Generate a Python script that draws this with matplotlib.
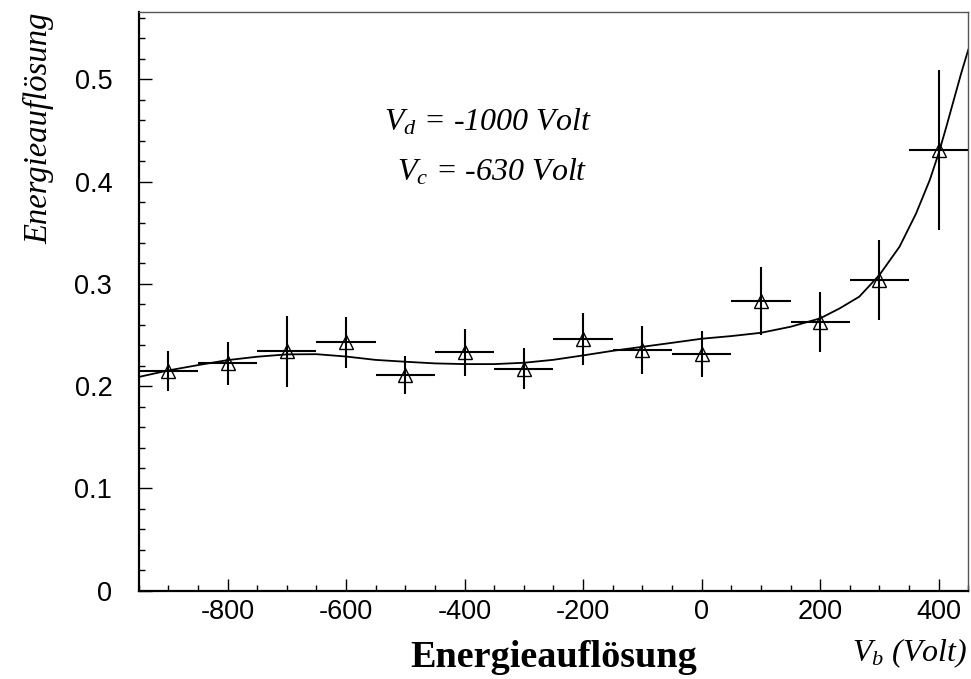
import numpy as np
import matplotlib
matplotlib.use('Agg')
import matplotlib.pyplot as plt
from matplotlib.ticker import MultipleLocator

# measured points: bias voltage V_b, energy resolution, error
vb       = [-900, -800, -700, -600, -500, -400, -300, -200, -100, 0, 100, 200, 300, 400]
res      = [0.2151, 0.2223, 0.2343, 0.2431, 0.2109, 0.2333, 0.2170,
            0.2464, 0.2353, 0.2314, 0.2835, 0.2627, 0.3038, 0.4309]
res_err  = [0.0195, 0.0210, 0.0348, 0.0250, 0.0186, 0.0230, 0.0200,
            0.0253, 0.0233, 0.0223, 0.0335, 0.0290, 0.0390, 0.0785]
bin_half = [50] * len(vb)

# fit curve
fit_x = [-950, -900, -850, -800, -750, -700, -650, -600, -550, -500, -450, -400,
         -350, -300, -250, -200, -150, -100, -50, 0, 50, 100, 150, 200, 233,
         266, 300, 334, 362, 385, 400, 413, 427, 438, 450]
fit_y = [0.2090, 0.2154, 0.2206, 0.2255, 0.2288, 0.2311, 0.2313, 0.2290, 0.2257,
         0.2239, 0.2223, 0.2216, 0.2216, 0.2229, 0.2258, 0.2301, 0.2346, 0.2385,
         0.2424, 0.2464, 0.2490, 0.2522, 0.2581, 0.2663, 0.2761, 0.2875, 0.3087,
         0.3364, 0.3690, 0.4016, 0.4277, 0.4537, 0.4830, 0.5059, 0.5290]

plt.rcParams['mathtext.fontset'] = 'custom'
plt.rcParams['mathtext.rm'] = 'Liberation Serif'
plt.rcParams['mathtext.it'] = 'Liberation Serif:italic'
plt.rcParams['axes.unicode_minus'] = False

SANS  = 'Liberation Sans'
SERIF = 'Liberation Serif'

fig = plt.figure(figsize=(9.71, 6.79), dpi=100)
ax = fig.add_axes([0.1428, 0.130, 0.8544, 0.8519])

# ── data + fit ───────────────────────────────────────────────────────────────
ax.plot(fit_x, fit_y, color='black', linewidth=1.3, zorder=2)
ax.errorbar(vb, res, yerr=res_err, xerr=bin_half, fmt='^', mfc='none',
            mec='black', ms=10, mew=1.0, ecolor='black', elinewidth=1.5,
            capsize=0, zorder=3)

ax.set_xlim(-950, 450)
ax.set_ylim(0, 0.5656)

# ── ROOT-like axes ───────────────────────────────────────────────────────────
ax.xaxis.set_major_locator(MultipleLocator(200))
ax.xaxis.set_minor_locator(MultipleLocator(50))
ax.yaxis.set_major_locator(MultipleLocator(0.1))
ax.yaxis.set_minor_locator(MultipleLocator(0.02))
ax.set_yticks([0, 0.1, 0.2, 0.3, 0.4, 0.5])
ax.set_yticklabels(['0', '0.1', '0.2', '0.3', '0.4', '0.5'])

ax.tick_params(which='both', direction='in', top=False, right=False, colors='black')
ax.tick_params(which='major', length=9, width=1.0)
ax.tick_params(which='minor', length=4.5, width=1.0)
ax.tick_params(axis='x', which='major', pad=6, labelsize=19.5)
ax.tick_params(axis='y', which='major', pad=19, labelsize=19.5)
for lbl in ax.get_xticklabels() + ax.get_yticklabels():
    lbl.set_fontfamily(SANS)

for side in ['left', 'bottom']:
    ax.spines[side].set_linewidth(1.6)
    ax.spines[side].set_color('black')
for side in ['top', 'right']:
    ax.spines[side].set_linewidth(1.0)
    ax.spines[side].set_color('#555555')

# ── annotations ──────────────────────────────────────────────────────────────
ax.text(-360, 0.4505, r'$V_d$ = -1000 Volt', ha='center', va='baseline',
        fontsize=23, fontfamily=SERIF, style='italic')
ax.text(-354, 0.4016, r'$V_c$ = -630 Volt', ha='center', va='baseline',
        fontsize=23, fontfamily=SERIF, style='italic')

fig.text(966.7 / 971, 1 - 661.7 / 679, r'$V_b$ (Volt)', ha='right', va='baseline',
         fontsize=23, fontfamily=SERIF, style='italic')
fig.text(553.5 / 971, 1 - 666.7 / 679, 'Energieauflösung', ha='center', va='baseline',
         fontsize=27.5, fontfamily=SERIF, fontweight='bold')
fig.text(47 / 971, 1 - 13 / 679, 'Energieauflösung', ha='right', va='baseline',
         rotation=90, rotation_mode='anchor', fontsize=23.5, fontfamily=SERIF,
         style='italic')

fig.savefig('out.png', dpi=100, facecolor='white')
